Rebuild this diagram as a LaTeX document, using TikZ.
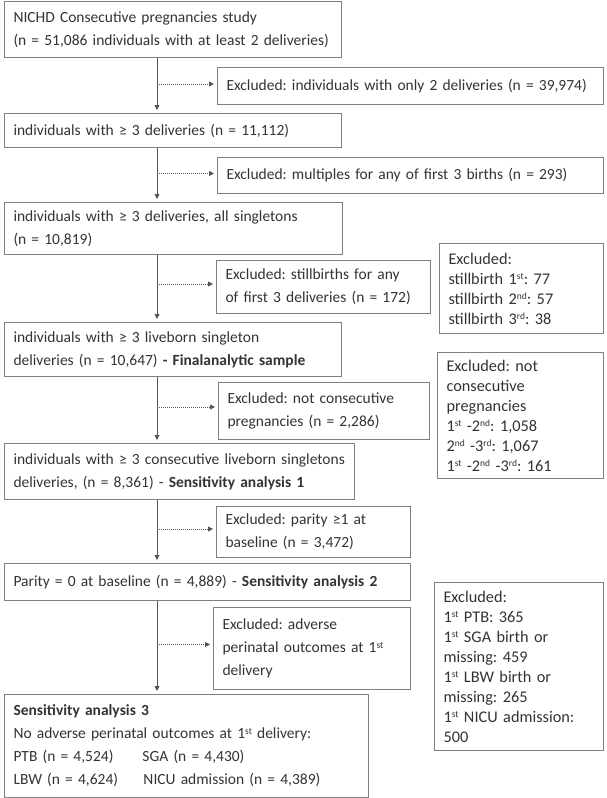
\documentclass[tikz,border=0pt]{standalone}
\usepackage{fontspec}
\setmainfont{Carlito}
\usetikzlibrary{arrows.meta,positioning,calc}
\definecolor{txt}{HTML}{333333}
\definecolor{frame}{HTML}{7F7F7F}
\definecolor{wire}{HTML}{555555}
\newcommand{\ordsup}[1]{\raisebox{0.55ex}{\fontsize{9.5}{9.5}\selectfont #1}}
\frenchspacing

\begin{document}
\begin{tikzpicture}[x=1pt, y=-1pt,
  box/.style 2 args={draw=frame, line width=1pt, anchor=north west, align=left,
                     text=txt, inner xsep=9pt, inner ysep=0pt,
                     text width=#1, minimum height=#2,
                     font=\fontsize{15.5}{23}\selectfont},
  side/.style 2 args={box={#1}{#2}, font=\fontsize{16.3}{20}\selectfont},
  arr/.style={-{Triangle[length=5pt,width=5pt]}, line width=0.9pt, draw=wire,
              shorten >=3pt},
  darr/.style={-{Triangle[length=5pt,width=5pt]}, line width=0.9pt, draw=wire,
               dash pattern=on 1pt off 1pt, shorten >=3pt},
]

% Page
\useasboundingbox (0,0) rectangle (606,798);

% Main column
\node[box={319pt}{56pt}] (all) at (4,1)
  {NICHD Consecutive pregnancies study\\
   (n = 51,086 individuals with at least 2 deliveries)};
\node[box={319pt}{34pt}] (ge3) at (4,113)
  {individuals with ≥ 3 deliveries (n = 11,112)};
\node[box={320pt}{52pt}] (single) at (4,202)
  {individuals with ≥ 3 deliveries, all singletons\\ (n = 10,819)};
\node[box={319pt}{54pt}] (final) at (4,322)
  {individuals with ≥ 3 liveborn singleton\\
   deliveries (n = 10,647) \textbf{- Finalanalytic sample}};
\node[box={332pt}{56pt}] (sens1) at (4,443)
  {individuals with ≥ 3 consecutive liveborn singletons\\
   deliveries, (n = 8,361) - \textbf{Sensitivity analysis 1}};
\node[box={388pt}{37pt}] (sens2) at (4,563)
  {Parity = 0 at baseline (n = 4,889) - \textbf{Sensitivity analysis 2}};
\node[box={346pt}{103pt}] (sens3) at (4,694)
  {\textbf{Sensitivity analysis 3}\\
   No adverse perinatal outcomes at 1\ordsup{st} delivery:\\
   \makebox[129pt][l]{PTB (n = 4,524)}SGA (n = 4,430)\\
   \makebox[130pt][l]{LBW (n = 4,624)}NICU admission (n = 4,389)};

% Exclusions
\node[box={368pt}{37pt}] (exonly2) at (217,67)
  {Excluded: individuals with only 2 deliveries (n = 39,974)};
\node[box={368pt}{36pt}] (exmult) at (217,157)
  {Excluded: multiples for any of first 3 births (n = 293)};
\node[box={196pt}{53pt}] (exstill) at (216,260)
  {Excluded: stillbirths for any\\ of first 3 deliveries (n = 172)};
\node[box={193pt}{57pt}] (exncons) at (218,382)
  {Excluded: not consecutive\\ pregnancies (n = 2,286)};
\node[box={176pt}{51pt}] (expar) at (216,506)
  {Excluded: parity ≥1 at\\ baseline (n = 3,472)};
\node[box={179pt}{82pt}] (exadv) at (213,607)
  {Excluded: adverse\\ perinatal outcomes at 1\ordsup{st}\\ delivery};

% Breakdowns
\node[side={146pt}{90pt}] (still) at (439,243)
  {Excluded:\\
   stillbirth 1\ordsup{st}: 77\\
   stillbirth 2\ordsup{nd}: 57\\
   stillbirth 3\ordsup{rd}: 38};
\node[side={148pt}{126pt}] (ncons) at (437,352)
  {Excluded: not\\ consecutive\\ pregnancies\\
   1\ordsup{st} -2\ordsup{nd}: 1,058\\
   2\ordsup{nd} -3\ordsup{rd}: 1,067\\
   1\ordsup{st} -2\ordsup{nd} -3\ordsup{rd}: 161};
\node[side={151pt}{168pt}] (adv) at (434,582)
  {Excluded:\\
   1\ordsup{st} PTB: 365\\
   1\ordsup{st} SGA birth or\\ missing: 459\\
   1\ordsup{st} LBW birth or\\ missing: 265\\
   1\ordsup{st} NICU admission:\\ 500};

% Flow
\coordinate (spine) at (157,0);
\draw[arr] (spine |- all.south) -- (spine |- ge3.north);
\draw[arr] (spine |- ge3.south) -- (spine |- single.north);
\draw[arr] (spine |- single.south) -- (spine |- final.north);
\draw[arr] (spine |- final.south) -- (spine |- sens1.north);
\draw[arr] (spine |- sens1.south) -- (spine |- sens2.north);
\draw[arr] (spine |- sens2.south) -- (spine |- sens3.north);

% Exclusion arrows
\draw[darr] ([yshift=2pt]spine |- exonly2.west) -- ([yshift=2pt]exonly2.west);
\draw[darr] ([yshift=2pt]spine |- exmult.west) -- ([yshift=2pt]exmult.west);
\draw[darr] ([yshift=3pt]spine |- exstill.west) -- ([yshift=3pt]exstill.west);
\draw[darr] ([yshift=4pt]spine |- exncons.west) -- ([yshift=4pt]exncons.west);
\draw[darr] ([yshift=3pt]spine |- expar.west) -- ([yshift=3pt]expar.west);
\draw[darr] ([yshift=4pt]spine |- exadv.west) -- ([yshift=4pt]exadv.west);

\end{tikzpicture}
\end{document}
